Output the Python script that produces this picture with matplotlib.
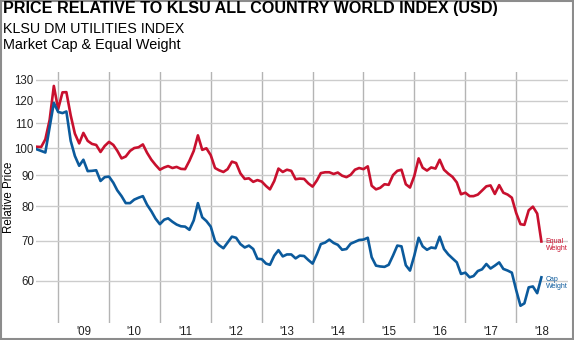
# Price relative chart: equal weight vs cap weight utilities index
import matplotlib
matplotlib.use('Agg')
import matplotlib.pyplot as plt
from matplotlib.patches import Rectangle
import pandas as pd

plt.rcParams['font.family'] = ['Liberation Sans', 'DejaVu Sans']

# monthly readings, Aug 2008 .. Jul 2018
equal_weight = [
    100.5, 100.4, 103.4, 111.5, 127.0, 116.2, 123.9, 124.0, 113.4, 105.7,
    101.8, 106.0, 102.8, 101.6, 101.2, 98.5, 100.8, 102.4, 101.2, 99.0,
    96.1, 96.8, 98.9, 100.0, 100.3, 101.4, 98.2, 95.6, 93.7, 92.0,
    92.8, 93.3, 92.6, 93.0, 92.3, 92.2, 95.2, 98.9, 105.0, 99.3,
    99.9, 97.3, 92.6, 91.8, 91.2, 92.2, 94.9, 94.4, 90.7, 88.8,
    89.0, 87.8, 88.4, 87.9, 86.4, 85.3, 88.1, 92.4, 91.2, 92.0,
    91.6, 88.7, 88.9, 88.8, 87.3, 86.2, 88.3, 90.8, 91.1, 91.1,
    90.5, 91.0, 89.9, 89.4, 90.2, 92.0, 92.6, 92.2, 93.2, 86.5,
    85.3, 85.8, 87.0, 86.8, 90.1, 91.6, 92.0, 87.0, 85.9, 89.8,
    96.1, 92.7, 91.7, 92.8, 92.4, 95.6, 92.0, 90.6, 89.5, 87.6,
    83.7, 84.2, 83.1, 83.1, 83.6, 84.9, 86.3, 86.6, 83.8, 86.7,
    84.2, 83.6, 82.6, 77.9, 74.6, 74.4, 78.7, 79.8, 77.7, 69.8,
]
cap_weight = [
    99.5, 98.9, 98.3, 108.4, 119.0, 114.9, 114.4, 115.1, 102.8, 97.0,
    93.4, 95.6, 91.5, 91.6, 91.8, 88.1, 89.4, 89.6, 87.5, 85.0,
    83.1, 80.9, 80.9, 82.0, 82.6, 83.1, 80.4, 78.4, 76.2, 74.6,
    75.9, 76.3, 75.3, 74.5, 74.0, 73.9, 73.0, 75.7, 80.9, 76.6,
    75.5, 73.9, 69.9, 68.8, 68.0, 69.5, 71.1, 70.8, 69.1, 68.2,
    68.7, 67.8, 65.3, 65.2, 64.1, 63.8, 66.1, 67.5, 65.9, 66.4,
    66.4, 65.4, 66.1, 66.0, 65.0, 64.1, 66.5, 69.1, 69.5, 70.3,
    69.4, 68.9, 67.6, 67.8, 69.2, 69.7, 70.2, 70.3, 70.8, 65.7,
    63.6, 63.4, 63.3, 63.8, 66.1, 68.7, 68.5, 63.7, 62.4, 66.1,
    70.8, 68.5, 67.6, 68.2, 68.0, 71.1, 67.8, 66.4, 65.4, 64.4,
    61.6, 61.9, 60.8, 61.1, 62.3, 62.7, 64.0, 62.9, 63.6, 64.4,
    62.8, 62.4, 61.9, 57.9, 54.5, 55.0, 58.5, 58.7, 57.2, 60.8,
]
dates = pd.date_range('2008-08-01', periods=len(equal_weight), freq='MS')

years = list(range(2009, 2019))
year_labels = ["'09", "'10", "'11", "'12", "'13", "'14", "'15", "'16", "'17", "'18"]
price_ticks = [60, 70, 80, 90, 100, 110, 120, 130]

red = '#c8102e'
blue = '#0b5a9c'

fig = plt.figure(figsize=(5.74, 3.40), dpi=100)
ax = fig.add_axes([36 / 574, 17 / 340, 532 / 574, 251 / 340])

ax.plot(dates, equal_weight, color=red, lw=1.9)
ax.plot(dates, cap_weight, color=blue, lw=1.9)

ax.set_yscale('log')
ax.set_ylim(51, 134)
ax.set_yticks(price_ticks)
ax.set_yticklabels([str(t) for t in price_ticks])
ax.yaxis.set_minor_locator(matplotlib.ticker.NullLocator())
ax.set_xlim(pd.Timestamp('2008-07-26'), pd.Timestamp('2019-01-08'))

# year boundaries as gridlines, labels centred in each year
ax.set_xticks([pd.Timestamp(f'{y}-01-01') for y in years])
ax.set_xticklabels([])
ax.set_xticks([pd.Timestamp(f'{y}-07-02') for y in years], minor=True)
ax.set_xticklabels(year_labels, minor=True)
ax.tick_params(axis='both', which='both', length=0, labelsize=8.3, colors='#222222')
ax.tick_params(axis='y', pad=1.5)
ax.tick_params(axis='x', which='minor', pad=2.5)

ax.grid(True, axis='y', color='#cccccc', lw=1)
ax.grid(True, axis='x', which='major', color='#b4b4b4', lw=1)
ax.set_axisbelow(True)
for s in ax.spines.values():
    s.set_visible(False)

ax.set_ylabel('Relative Price', fontsize=8.3)
ax.yaxis.set_label_coords(-0.04, 0.5)

# series labels at line ends
ax.annotate('Equal\nWeight', xy=(dates[-1], equal_weight[-1]), xytext=(3, -2.5),
            textcoords='offset points', color=red, fontsize=5, va='center', ha='left',
            linespacing=1.1)
ax.annotate('Cap\nWeight', xy=(dates[-1], cap_weight[-1]), xytext=(3, -4),
            textcoords='offset points', color=blue, fontsize=5, va='center', ha='left',
            linespacing=1.1)

# titles
fig.text(3 / 574, 1 - 9 / 340, 'PRICE RELATIVE TO KLSU ALL COUNTRY WORLD INDEX (USD)',
         fontsize=11.6, fontweight='bold', va='center', ha='left')
fig.text(3 / 574, 1 - 29 / 340, 'KLSU DM UTILITIES INDEX', fontsize=10.3, va='center', ha='left')
fig.text(3 / 574, 1 - 45 / 340, 'Market Cap & Equal Weight', fontsize=10.4, va='center', ha='left')

# grey frame round the whole picture
fig.patches.append(Rectangle((0.001, 0.002), 0.997, 0.995, transform=fig.transFigure,
                             fill=False, edgecolor='#8c8c8c', lw=1.5))

fig.savefig('out.png', dpi=100)
